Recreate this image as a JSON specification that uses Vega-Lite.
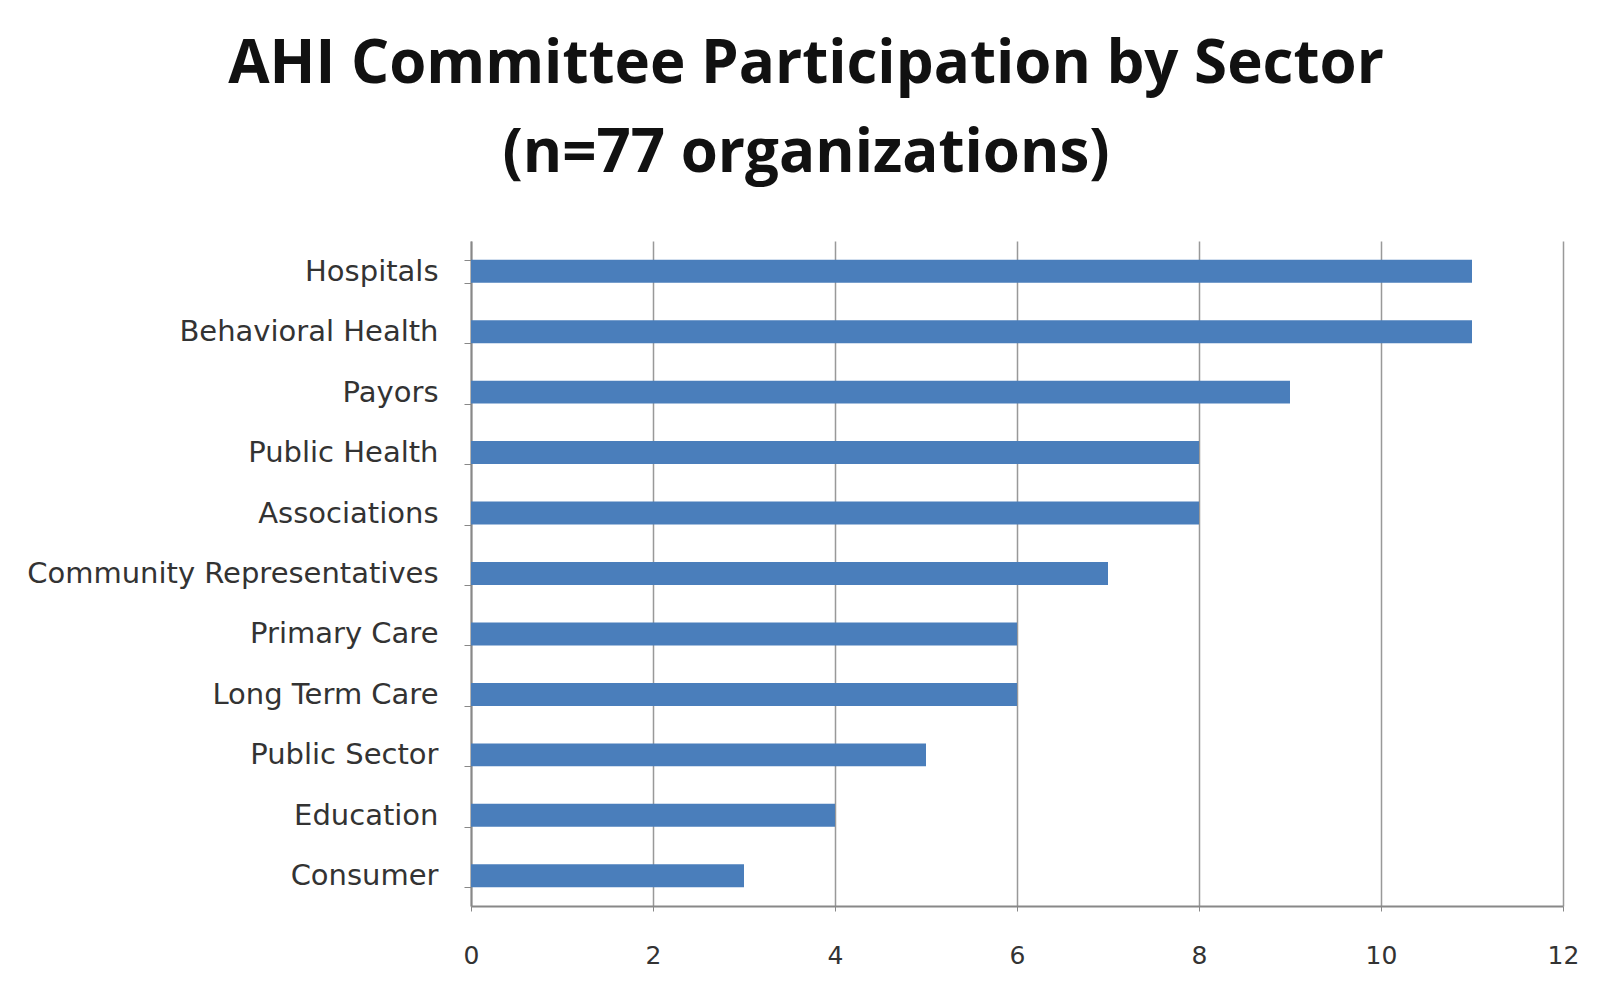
{
  "$schema": "https://vega.github.io/schema/vega-lite/v6.json",
  "autosize": {"type": "none"},
  "width": 1092,
  "height": 665,
  "padding": {"left": 471, "top": 241, "right": 37, "bottom": 78},
  "background": "white",
  "title": {
    "text": ["AHI Committee Participation by Sector", "(n=77 organizations)"],
    "font": "Open Sans",
    "fontWeight": "bold",
    "fontSize": 60,
    "lineHeight": 89,
    "color": "#111111",
    "anchor": "middle",
    "dx": -211,
    "offset": 42
  },
  "data": {
    "values": [
      {"sector": "Hospitals", "count": 11},
      {"sector": "Behavioral Health", "count": 11},
      {"sector": "Payors", "count": 9},
      {"sector": "Public Health", "count": 8},
      {"sector": "Associations", "count": 8},
      {"sector": "Community Representatives", "count": 7},
      {"sector": "Primary Care", "count": 6},
      {"sector": "Long Term Care", "count": 6},
      {"sector": "Public Sector", "count": 5},
      {"sector": "Education", "count": 4},
      {"sector": "Consumer", "count": 3}
    ]
  },
  "mark": {"type": "bar", "color": "#4a7ebb"},
  "encoding": {
    "y": {
      "field": "sector",
      "type": "nominal",
      "sort": null,
      "title": null,
      "scale": {"paddingInner": 0.62, "paddingOuter": 0.31},
      "axis": {
        "labelFont": "DejaVu Sans",
        "labelFontSize": 29,
        "labelColor": "#333333",
        "labelPadding": 26,
        "labelLimit": 600,
        "tickBand": "extent",
        "tickSize": 7,
        "tickColor": "#888888",
        "domainColor": "#888888",
        "domainWidth": 2,
        "grid": false
      }
    },
    "x": {
      "field": "count",
      "type": "quantitative",
      "title": null,
      "scale": {"domain": [0, 12], "nice": false},
      "axis": {
        "values": [0, 2, 4, 6, 8, 10, 12],
        "labelFont": "DejaVu Sans",
        "labelFontSize": 25,
        "labelColor": "#333333",
        "labelPadding": 32,
        "labelFlush": false,
        "tickSize": 5,
        "tickColor": "#888888",
        "domainColor": "#888888",
        "domainWidth": 2,
        "grid": true,
        "gridColor": "#999999",
        "gridWidth": 1.5
      }
    }
  },
  "config": {"view": {"stroke": null}}
}
